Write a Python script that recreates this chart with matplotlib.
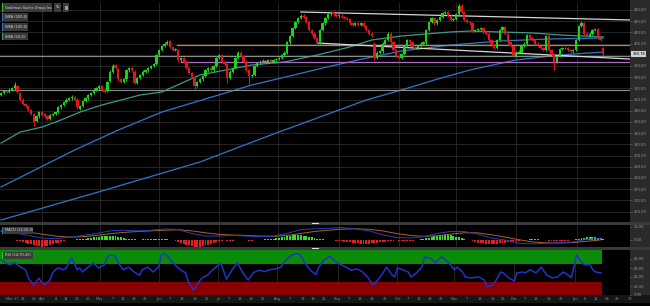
import numpy as np
import pandas as pd
import matplotlib
matplotlib.use("Agg")
import matplotlib.pyplot as plt
import matplotlib.transforms as mtrans
from matplotlib.patches import Rectangle

# trading days, day 0 = 2021-03-11
first_day = "2021-03-11"
axis_end = "2022-01-31"

opens = [354,356,358,357,359,360,362,356,350,346,344,341,337,331,335,339,337,335,333,336,
         337,339,343,345,348,350,351,352,350,342,344,349,351,354,356,359,360,362,359,358,
         367,375,381,377,368,366,368,376,378,375,365,369,372,375,376,378,380,382,390,394,
         398,400,402,397,394,394,385,387,384,378,374,370,362,366,368,371,376,378,376,380,
         387,390,384,382,369,375,378,387,392,389,384,376,371,372,380,383,384,384,384,385,
         384,385,386,387,390,392,401,407,414,419,423,425,424,419,412,409,405,401,412,418,
         423,426,428,426,425,425,424,423,422,418,417,418,417,418,416,412,409,400,387,392,
         393,400,403,409,401,394,389,387,391,398,403,401,397,396,398,400,401,412,419,423,
         418,421,424,427,428,425,421,422,426,434,428,421,419,418,411,412,413,414,410,409,
         403,399,396,403,412,415,409,401,398,389,392,392,398,400,408,405,403,400,398,396,
         394,407,394,390,384,389,395,396,396,394,393,394,403,416,418,409,407,409,412,413,
         405,396]
highs = [357,359,359,360,361,366,363,357,351,347,345,342,338,336,340,340,338,336,337,338,
         340,344,346,349,351,352,354,353,351,345,350,352,355,357,360,361,363,363,360,367,
         376,382,382,378,369,369,377,379,379,376,370,373,376,377,379,381,383,391,395,399,
         401,403,403,398,396,395,388,388,385,379,375,371,367,369,372,377,379,379,381,388,
         391,391,385,383,376,379,388,393,393,390,385,377,373,381,384,385,386,385,386,386,
         386,387,388,391,393,402,408,415,420,424,426,426,425,420,413,410,406,413,419,424,
         427,429,429,427,426,426,425,424,423,419,419,419,419,419,417,413,410,401,393,394,
         401,404,410,410,402,395,390,392,399,404,404,402,398,399,401,402,413,420,424,424,
         422,425,428,429,429,426,423,427,435,435,429,422,420,419,413,414,415,415,411,410,
         404,400,404,413,416,416,410,402,399,393,394,399,401,409,409,406,404,401,399,397,
         408,408,395,391,390,396,397,397,397,395,395,404,417,420,419,410,410,413,414,414,
         406,397]
lows = [353,355,356,356,358,359,356,349,345,343,340,336,326,330,334,335,334,332,332,335,
        336,338,342,344,347,349,350,349,342,341,343,348,350,353,355,358,359,358,356,357,
        366,374,377,367,365,365,367,375,375,364,364,368,371,374,375,377,379,381,389,393,
        397,399,396,393,393,384,384,383,377,373,369,359,361,365,367,370,375,375,375,379,
        386,383,381,365,368,374,377,386,388,383,375,364,370,371,379,382,383,383,383,383,
        383,384,385,386,389,391,400,406,413,418,422,423,418,411,408,404,399,400,411,417,
        422,425,425,424,423,423,422,421,417,416,416,416,416,415,411,408,406,385,386,391,
        392,399,402,400,393,388,386,386,390,397,400,396,395,395,397,399,400,411,418,417,
        417,420,423,426,424,420,420,421,425,427,420,418,417,410,410,411,412,409,408,402,
        398,395,395,402,411,408,400,397,388,388,391,391,397,399,404,402,399,397,395,393,
        393,393,389,376,383,388,394,395,393,392,392,393,402,415,408,406,406,408,411,404,
        402,389]
closes = [356,358,357,359,360,363,357,350,346,344,341,337,330,335,339,336,335,333,336,337,
          339,343,345,348,350,351,352,350,343,344,349,351,354,356,359,360,362,359,357,366,
          375,380,378,368,366,368,376,378,376,365,369,372,375,376,378,380,382,390,394,398,
          400,401,397,394,395,385,387,384,378,374,370,362,366,368,371,376,378,376,380,387,
          390,384,382,369,375,378,387,392,389,384,376,371,372,380,383,384,384,384,385,384,
          385,386,387,390,392,401,407,414,419,423,425,424,419,412,409,405,401,412,418,423,
          426,428,426,425,425,424,423,422,418,417,418,417,418,416,412,409,407,387,392,393,
          400,403,409,401,394,389,387,391,398,403,401,397,396,398,400,401,412,419,423,418,
          421,424,427,428,425,421,422,426,434,428,421,419,418,411,412,413,414,410,409,403,
          399,396,403,412,415,409,401,398,389,392,392,398,400,408,405,403,400,398,396,394,
          407,394,390,384,389,395,396,396,394,393,394,403,416,418,409,407,409,412,413,405,
          403,390.78]

sma200_day = [0, 37, 73, 101, 134, 147, 159, 172, 189, 205, 221]
sma200_val = [242.5, 268.4, 294.3, 320.2, 349.6, 358.6, 367.5, 376.4, 385.4, 389.8, 392.5]
sma100_day = [0, 27, 43, 59, 92, 106, 118, 131, 147, 165, 183, 201, 221]
sma100_val = [272.0, 305.0, 322.8, 338.9, 363.0, 371.1, 378.2, 385.4, 393.4, 398.7, 402.3, 404.1, 405.0]
sma50_day = [0, 7, 15, 22, 29, 37, 44, 51, 59, 73, 92, 104, 116, 128, 136, 147, 165, 172, 183, 195, 205, 221]
sma50_val = [311.2, 321.0, 325.5, 331.8, 338.9, 345.2, 349.6, 354.1, 356.8, 372.0, 380.9, 383.6, 389.8,
             397.0, 403.2, 406.8, 410.4, 411.2, 410.4, 409.5, 407.7, 405.9]

# drawn levels / trend lines
trend_top_day, trend_top_val = [110, 231], [428.2, 421.1]
trend_low_day, trend_low_val = [116, 231], [400.5, 386.2]
orange_level, orange_from = 398.6, 64.5
purple_level, purple_from = 383.5, 66
grey_levels = [389.2, 358.4]
last_price = 390.78

macd_hist = [0.3,0.2,0.2,0.1,0.0,-0.2,-0.5,
             -1.0,-1.6,-2.2,-2.8,-3.4,-4.0,-4.5,-4.9,-5.2,-5.0,-4.6,-4.0,-3.4,-2.7,-2.0,-1.3,-0.7,
             -0.3,0.0,0.2,0.3,0.4,0.5,
             0.8,1.1,1.4,1.7,2.0,2.3,2.5,2.7,2.9,3.0,3.1,3.2,3.0,2.6,2.1,1.5,
             1.0,0.7,0.5,0.4,0.3,0.3,0.4,0.5,0.6,0.6,0.5,0.6,0.7,0.8,0.7,0.5,0.2,
             -0.4,-1.0,-1.6,-2.3,-3.0,-3.6,-4.2,-4.8,-5.2,-5.4,-5.2,-4.8,-4.2,-3.5,-2.8,-2.0,-1.3,-0.8,
             -0.5,-0.4,-0.5,-0.6,-0.5,-0.3,-0.1,0.1,-0.2,-0.4,-0.6,-0.5,-0.3,-0.1,0.1,
             0.3,0.5,0.7,0.9,1.1,1.3,1.6,2.0,2.4,2.8,3.2,3.5,3.7,3.8,3.7,3.4,3.0,2.5,2.0,1.5,1.1,0.8,0.5,
             0.2,0.0,-0.2,-0.4,-0.6,-0.8,-1.0,-1.2,-1.5,-1.8,-2.1,-2.4,-2.7,-2.9,-3.0,-3.0,-2.9,-2.7,
             -2.5,-2.2,-1.9,-1.6,-1.3,-1.0,-0.8,-0.6,-0.4,
             -0.6,-0.8,-1.0,-0.9,-0.7,-0.5,-0.2,0.2,0.5,0.9,
             1.3,1.8,2.3,2.8,3.2,3.5,3.7,3.8,3.7,3.5,3.1,2.6,2.0,1.4,0.8,
             0.2,-0.4,-1.0,-1.5,-2.0,-2.4,-2.7,-2.9,-3.0,-3.0,-2.9,-2.8,-2.6,-2.4,-2.2,-1.9,-1.6,-1.3,
             -1.0,-0.7,-0.4,-0.1,
             0.2,0.4,0.5,0.5,0.4,0.3,0.1,
             -0.2,-0.5,-0.8,-1.0,-1.1,-1.1,-1.0,-0.8,-0.5,-0.3,0.0,
             0.4,0.9,1.4,1.8,2.1,2.2,2.1,1.9,1.6,1.3,1.0]
macd_day = list(range(0, 221, 5))
macd_line = [6.5,5.5,3.5,1.5,1.0,2.0,3.5,5.0,7.0,7.5,7.0,7.5,8.5,8.0,5.0,3.0,3.0,3.5,3.0,2.5,3.0,
             5.0,8.0,8.5,9.0,9.5,8.5,7.0,4.0,2.0,1.5,2.5,5.0,6.5,6.5,4.5,1.5,0.0,-2.5,-3.0,-2.5,
             -2.0,-1.5,0.5,1.0]
macd_signal = [7.0,7.0,6.0,4.5,3.0,2.2,2.5,3.5,4.8,5.8,6.5,7.0,7.5,7.8,7.0,5.5,4.3,3.8,3.5,3.0,2.8,
               3.5,5.0,6.5,7.5,8.3,8.6,8.2,7.0,5.0,3.5,2.8,3.2,4.5,5.5,5.5,4.0,2.2,0.2,-1.5,-2.2,
               -2.3,-2.0,-1.0,0.0]

rsi_day = [0,1,3,5,6,7,9,10,12,13,14,15,16,18,19,20,21,23,24,25,26,27,28,29,30,32,34,36,38,39,
           40,42,43,45,47,49,51,52,54,56,58,59,60,62,63,66,68,69,71,72,74,76,78,81,
           83,85,87,89,91,93,95,97,99,101,103,105,107,109,110,112,114,116,117,119,
           121,123,125,127,129,131,133,135,137,139,141,142,144,145,
           146,148,150,151,153,155,156,158,160,162,163,165,167,168,170,171,173,176,178,179,
           181,182,184,185,187,189,190,192,193,195,197,199,201,203,205,207,209,210,211,212,
           214,215,217,218,219,221]
rsi_val = [79,74,67,72,67,63,56,38,22,30,37,27,22,33,49,56,60,56,60,71,82,71,56,60,51,62,71,60,67,82,
           89,87,73,56,62,51,44,56,62,51,62,89,93,82,73,56,49,29,11,22,38,44,56,71,
           35,55,72,50,33,50,55,52,56,58,62,78,88,92,90,70,55,45,62,78,
           86,75,68,62,55,58,52,40,22,35,52,62,45,40,
           60,56,51,40,49,62,84,82,71,84,82,71,56,62,51,40,38,40,33,18,
           22,29,51,49,38,31,49,51,49,56,49,62,44,38,40,51,44,38,62,89,
           71,67,67,56,51,49]

price_ticks = list(range(250, 431, 10))
month_names = ["Apr", "May", "Jun", "Jul", "Aug", "Sep", "Oct", "Nov", "Dec", "Jan"]
month_starts = ["2021-04-01", "2021-05-01", "2021-06-01", "2021-07-01", "2021-08-01",
                "2021-09-01", "2021-10-01", "2021-11-01", "2021-12-01", "2022-01-01"]
tick_months = ["2021-03", "2021-04", "2021-05", "2021-06", "2021-07", "2021-08",
               "2021-09", "2021-10", "2021-11", "2021-12", "2022-01"]
tick_days = [[17, 23, 29], [8, 14, 20, 26], [7, 13, 19, 25], [7, 13, 19, 25], [7, 13, 19, 25],
             [7, 13, 19, 25], [7, 13, 19, 25], [7, 13, 19, 25], [7, 13, 19, 25], [7, 13, 19, 25],
             [6, 12, 18, 24, 30]]

GREEN = "#19d419"
RED = "#e3161b"
BLUE = "#2f78c8"
TEAL = "#3b9b8a"
GRID = "#2b2b2b"
TXT = "#9a9a9a"

W, H = 650, 306
fig = plt.figure(figsize=(W / 100, H / 100), dpi=100, facecolor="#000000")


def frac(x0, y0, x1, y1):
    return [x0 / W, 1 - y1 / H, (x1 - x0) / W, (y1 - y0) / H]


def box(x0, y0, x1, y1, color, z=6):
    fig.patches.append(Rectangle((x0 / W, 1 - y1 / H), (x1 - x0) / W, (y1 - y0) / H,
                                 transform=fig.transFigure, facecolor=color,
                                 edgecolor="none", zorder=z))


# trading calendar -> positions
cal = pd.bdate_range(first_day, axis_end)
cal_num = cal.asi8.astype(float)


def pos(d):
    return float(np.interp(pd.Timestamp(d).value, cal_num, np.arange(len(cal))))


month_pos = [pos(d) for d in month_starts]
xt, xl = [], []
first = True
for m, dl in zip(tick_months, tick_days):
    for dd in dl:
        xt.append(pos(m + "-%02d" % dd))
        xl.append(("Mar %d" % dd) if first else str(dd))
        first = False
for p, n in zip(month_pos, month_names):
    xt.append(p)
    xl.append(n)

xmin, xmax = -0.4, 230.8

# backgrounds
box(630, 0, 650, 295, "#2a2a2a", z=-1)
box(0, 295, 650, 303, "#161616", z=-1)

ax = fig.add_axes(frac(0, 3, 630, 222))
axm = fig.add_axes(frac(0, 225, 630, 247))
axr = fig.add_axes(frac(0, 250, 630, 295))

for a in (ax, axm, axr):
    a.set_facecolor("#000000")
    for s in a.spines.values():
        s.set_visible(False)
    a.set_xlim(xmin, xmax)
    for p in month_pos:
        a.axvline(p, color=GRID, lw=0.6, zorder=0)
    a.yaxis.tick_right()
    a.tick_params(axis="y", labelsize=2.6, labelcolor=TXT, length=1.5, width=0.4,
                  color="#777777", pad=1)
    a.tick_params(axis="x", length=0)
    a.set_xticks([])

# ---- price panel
ax.set_ylim(240.7, 436.25)
ax.set_yticks(price_ticks)
ax.set_yticklabels(["%.2f" % v for v in price_ticks])
for v in price_ticks:
    ax.axhline(v, color=GRID, lw=0.6, zorder=0)

ax.plot(sma200_day, sma200_val, color=BLUE, lw=0.9, zorder=2)
ax.plot(sma100_day, sma100_val, color=BLUE, lw=0.9, zorder=2)
ax.plot(sma50_day, sma50_val, color=TEAL, lw=0.9, zorder=2)

for v in grey_levels:
    ax.axhline(v, color="#8c8c8c", lw=0.8, zorder=2)
ax.plot([orange_from, xmax], [orange_level] * 2, color="#c0834f", lw=0.9, zorder=2)
ax.plot([purple_from, xmax], [purple_level] * 2, color="#b06cc4", lw=0.9, zorder=2)
ax.plot(trend_top_day, trend_top_val, color="#d6d6d6", lw=0.9, zorder=2)
ax.plot(trend_low_day, trend_low_val, color="#d6d6d6", lw=0.9, zorder=2)

o = np.array(opens, float)
h = np.array(highs, float)
l = np.array(lows, float)
c = np.array(closes, float)
days = np.arange(len(c))
cols = np.where(c >= o, GREEN, RED)
ax.vlines(days, l, h, colors=cols, lw=0.7, zorder=3)
ax.bar(days, np.maximum(np.abs(c - o), 0.5), bottom=np.minimum(o, c), width=0.85,
       color=cols, zorder=4)

tr = mtrans.blended_transform_factory(ax.transAxes, ax.transData)
ax.text(1.004, last_price, "%.2f" % last_price, transform=tr, fontsize=2.6, color="#000000",
        va="center", ha="left", clip_on=False, zorder=10,
        bbox=dict(boxstyle="square,pad=0.35", facecolor="#d2d2d2", edgecolor="none"))

# ---- MACD panel
axm.set_ylim(-5.4, 11.5)
axm.set_yticks([0, 10])
axm.set_yticklabels(["0.00", "10.00"])
hist = np.array(macd_hist)
axm.bar(np.arange(len(hist)), hist, width=0.7,
        color=np.where(hist >= 0, "#2fe02f", "#e02020"), zorder=2)
axm.plot(macd_day, macd_signal, color="#b0602c", lw=0.7, zorder=3)
axm.plot(macd_day, macd_line, color="#2440c0", lw=0.7, zorder=3)

# ---- RSI panel
axr.set_ylim(0, 100)
axr.set_yticks([0, 20, 40, 60, 80])
axr.set_yticklabels(["0.00", "20.00", "40.00", "60.00", "80.00"])
band_end = len(c) - 0.6
axr.fill_between([xmin, band_end], 70, 100, color="#0a8c0a", lw=0, zorder=1)
axr.fill_between([xmin, band_end], 0, 30, color="#8a0000", lw=0, zorder=1)
axr.plot(rsi_day, rsi_val, color="#2233c8", lw=1.1, zorder=3)
axr.set_xticks(xt)
axr.set_xticklabels(xl)
axr.tick_params(axis="x", labelsize=2.6, labelcolor="#8a8a8a", length=0, pad=1.5)

# separators and drag handles
box(0, 222, 650, 225, "#3a3a3a")
box(0, 247, 650, 250, "#3a3a3a")
box(312, 222.8, 319, 224.2, "#e0e0e0", z=7)
box(312, 247.8, 319, 249.2, "#e0e0e0", z=7)

# legend boxes
legend_rows = [("Goldman Sachs Group Inc.", GREEN, 3.5, 11.5, 52),
               ("SMA (200,0)", BLUE, 13.5, 20.5, 28),
               ("SMA (100,0)", BLUE, 23.5, 30.5, 28),
               ("SMA (50,0)", TEAL, 33, 40, 28),
               ("MACD (12,26,9)", BLUE, 227, 233.5, 33),
               ("RSI (14,70,30)", GREEN, 252, 258.5, 33)]
for txt, mc, y0, y1, x1 in legend_rows:
    box(2, y0, x1, y1, "#3a3a3a", z=8)
    box(2, y0, 3.4, y1, mc, z=9)
    fig.text(5 / W, 1 - (y0 + y1) / 2 / H, txt, fontsize=2.6, color="#d8d8d8",
             va="center", ha="left", zorder=10)
box(54, 3.5, 61, 11.5, "#3a3a3a", z=8)
box(63, 3.5, 69, 11.5, "#3a3a3a", z=8)
fig.text(57.5 / W, 1 - 7.5 / H, "\u21bb", fontsize=3.2, color="#d8d8d8", va="center",
         ha="center", zorder=10)
box(64.5, 5.5, 67.5, 9.5, "#9a9a9a", z=9)

fig.savefig("out.png", dpi=100, facecolor=fig.get_facecolor())
